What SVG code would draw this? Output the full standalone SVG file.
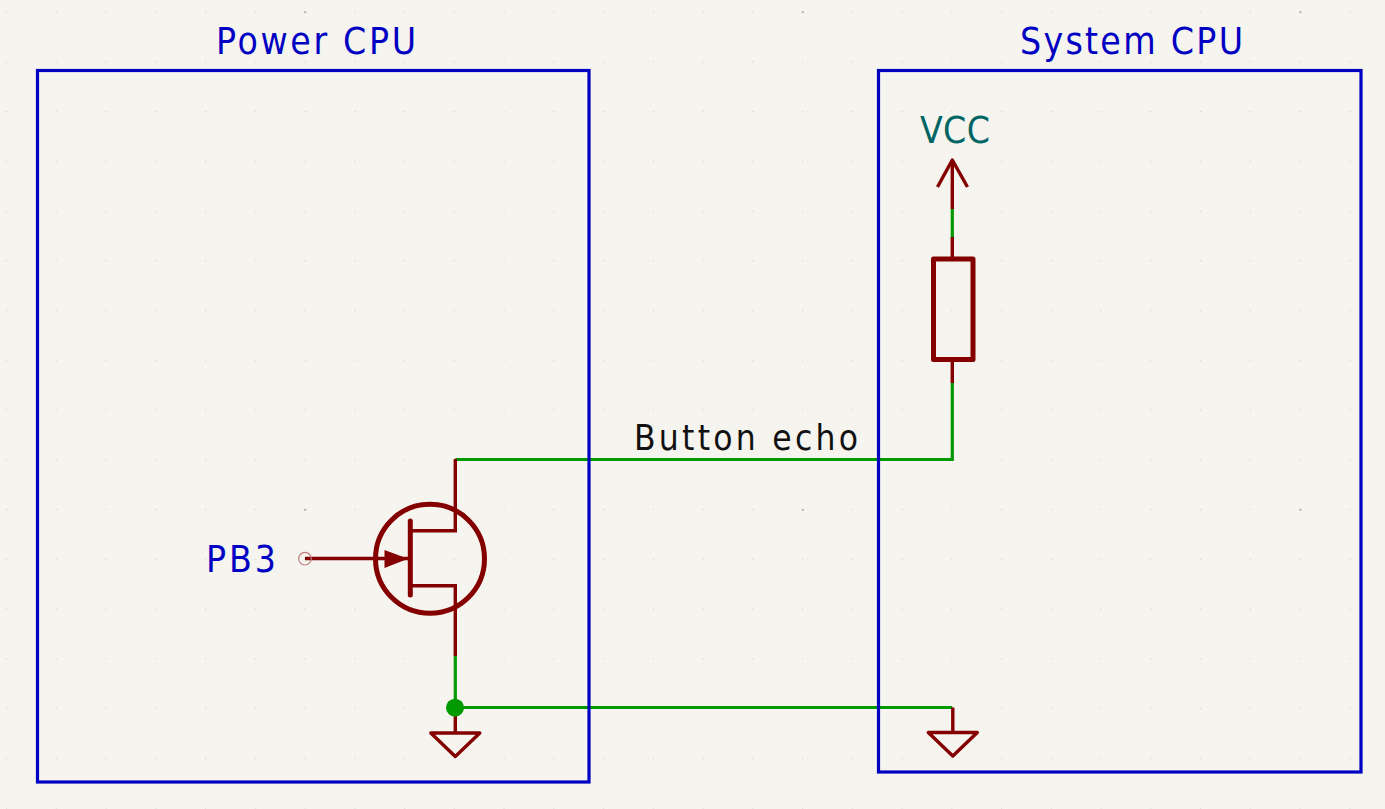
<svg xmlns="http://www.w3.org/2000/svg" width="1385" height="809" viewBox="0 0 1385 809">
<style>
text{font-family:"DejaVu Sans","Liberation Sans",sans-serif;font-size:37px;font-stretch:condensed}
.blue{fill:#0000c2}
.box{fill:none;stroke:#0000c2;stroke-width:3.2}
.wire{fill:none;stroke:#009900;stroke-width:3.2}
.pin{fill:none;stroke:#840000;stroke-width:3.4}
.tri{fill:none;stroke:#840000;stroke-width:3.4;stroke-linejoin:round}
.body{fill:none;stroke:#840000;stroke-width:5;stroke-linejoin:round;stroke-linecap:round}
</style>
<defs>
<pattern id="g" x="6" y="11.5" width="49.75" height="49.75" patternUnits="userSpaceOnUse"><rect width="1.2" height="1.2" fill="#d4d4cf"/></pattern>
<pattern id="G" x="304.2" y="11.2" width="497.6" height="497.6" patternUnits="userSpaceOnUse"><rect width="2" height="2" fill="#b4b4af"/></pattern>
<g id="gnd-sym"><path class="pin" d="M0 0V25"/><path class="tri" d="M-24.5 25H24.5L0 48.5Z"/></g>
</defs>
<rect width="1385" height="809" fill="#f5f4ef"/>
<rect width="1385" height="809" fill="url(#g)"/>
<rect width="1385" height="809" fill="url(#G)"/>
<g id="connectors">
<path class="wire" d="M455.3 459.5H952.3V383"/>
<path class="wire" d="M952.3 209V237"/>
<path class="wire" d="M455.3 656V707.5H952.3"/>
</g>
<g id="power-cpu"><rect class="box" x="37.5" y="70.5" width="551.5" height="711.5"/><text class="blue" x="216" y="54" textLength="200">Power CPU</text></g>
<g id="system-cpu"><rect class="box" x="878.5" y="70.5" width="482.5" height="701.5"/><text class="blue" x="1020" y="54" textLength="223">System CPU</text></g>
<g id="transistor">
<circle class="body" cx="430" cy="558.7" r="54.5"/>
<path class="pin" d="M455.3 459V530.7H411"/>
<path class="pin" d="M411 585.7H455.3V656"/>
<path class="body" d="M410.3 521V595"/>
<path class="pin" d="M305 558.5H408"/>
<path d="M384.5 550L408 558.7L384.5 568Z" fill="#840000"/>
<circle cx="305" cy="558.7" r="6.3" fill="none" stroke="#c07c7c" stroke-width="1.2"/>
<text class="blue" x="206" y="571.5" textLength="70">PB3</text>
</g>
<use id="gnd-left" href="#gnd-sym" x="455.3" y="708"/>
<use id="gnd-right" href="#gnd-sym" x="952.8" y="707.5"/>
<g id="junction"><circle cx="455" cy="707.7" r="9" fill="#009900"/></g>
<g id="vcc">
<path class="pin" d="M952.3 209V160"/>
<path class="pin" d="M937.5 187L952.3 160L967.5 187" stroke-linejoin="round"/>
<text x="920" y="143" fill="#006464" textLength="70">VCC</text>
</g>
<g id="resistor">
<path class="pin" d="M952.3 237V259M952.3 359V383"/>
<rect class="body" x="933.5" y="259" width="39.5" height="100.5"/>
</g>
<text id="button-echo" x="634" y="450" fill="#111" style="font-size:35px" textLength="224">Button echo</text>
</svg>
